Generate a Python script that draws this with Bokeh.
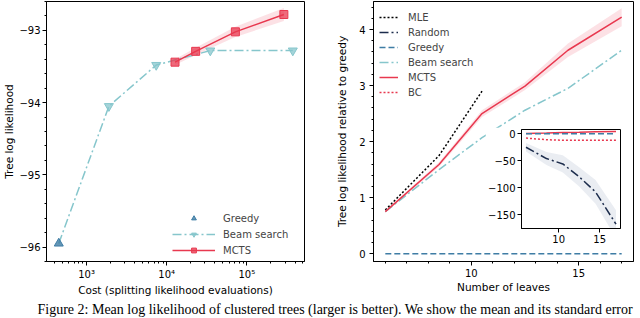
from bokeh.plotting import figure
from bokeh.layouts import row
from bokeh.models import (Range1d, FixedTicker, SingleIntervalTicker, Legend, LegendItem,
                          GridBox)
from bokeh.core.properties import value
from bokeh.embed import file_html
from bokeh.resources import INLINE

# ---------------- data: left panel ----------------
cost_greedy = [450]
ll_greedy = [-95.95]
cost_beam = [450, 1900, 7400, 35000, 375000]
ll_beam = [-95.95, -94.05, -93.48, -93.28, -93.28]
cost_mcts = [12700, 23000, 72000, 290000]
ll_mcts = [-93.44, -93.29, -93.02, -92.78]
se_mcts = [0.04, 0.05, 0.07, 0.09]
cost_ticks = [1e3, 1e4, 1e5]
cost_tick_labels = ["10³", "10⁴", "10⁵"]

# ---------------- data: right panel ----------------
leaves = [6, 8.5, 10.5, 12.5, 14.5, 17]
leaves_mle = [6, 8.5, 10.5]
rel_mle = [0.78, 1.75, 2.9]
rel_random = [-25, -46, -56, -80, -108, -168]
se_random = [8, 12, 16, 18, 22, 26]
rel_greedy = [0, 0, 0, 0, 0, 0]
rel_beam = [0.75, 1.5, 2.07, 2.56, 2.95, 3.63]
rel_mcts = [0.75, 1.59, 2.5, 2.99, 3.63, 4.22]
se_mcts_r = [0.02, 0.04, 0.06, 0.07, 0.12, 0.16]
rel_bc = [-8, -11, -12, -12, -12, -12]
inset_yticks = [0, -50, -100, -150]
inset_xticks = [10, 15]

caption = ("Figure 2: Mean log likelihood of clustered trees (larger is better). "
           "We show the mean and its standard error")

RED = "#e8384f"
BEAM = "#86c6cc"
GREEDY = "#3f7da5"
RANDOM = "#1c2c4c"
FONT = "DejaVu Sans"
DASHDOT = "9 3 2 3"


def style(p, tick_size="10px"):
    p.outline_line_color = "black"
    p.outline_line_width = 1
    p.background_fill_color = "white"
    p.border_fill_color = "white"
    p.xgrid.visible = False
    p.ygrid.visible = False
    for ax in p.axis:
        ax.axis_line_color = "black"
        ax.major_tick_line_color = "black"
        ax.minor_tick_line_color = "black"
        ax.major_tick_in = 0
        ax.major_tick_out = 4
        ax.minor_tick_in = 0
        ax.minor_tick_out = 2
        ax.major_label_text_font = FONT
        ax.major_label_text_font_size = tick_size
        ax.major_label_text_color = "black"
        ax.major_label_standoff = 3
        ax.axis_label_text_font = FONT
        ax.axis_label_text_font_size = "10.5px"
        ax.axis_label_text_font_style = "normal"
        ax.axis_label_text_color = "black"
        ax.axis_label_standoff = 1


PH = 300  # plot height (frame 1..261)

# ---------------- left figure ----------------
p1 = figure(width=333, height=PH, x_axis_type="log",
            x_range=Range1d(10 ** 2.5, 10 ** 5.72), y_range=Range1d(-96.2, -92.6),
            output_backend="svg", toolbar_location=None,
            min_border_left=42, min_border_right=29, min_border_top=1, min_border_bottom=39)
style(p1)
minor_log = [m * 10 ** e for e in range(2, 6) for m in range(2, 10)]
p1.xaxis.ticker = FixedTicker(ticks=cost_ticks, minor_ticks=minor_log)
p1.xaxis.major_label_overrides = {t: l for t, l in zip(cost_ticks, cost_tick_labels)}
p1.yaxis.ticker = SingleIntervalTicker(interval=1, num_minor_ticks=5)
p1.yaxis.axis_label_standoff = 1
p1.yaxis.major_label_standoff = 2
p1.xaxis.axis_label = "Cost (splitting likelihood evaluations)"
p1.yaxis.axis_label = "Tree log likelihood"

lo = [m - s for m, s in zip(ll_mcts, se_mcts)]
hi = [m + s for m, s in zip(ll_mcts, se_mcts)]
p1.varea(x=cost_mcts, y1=lo, y2=hi, fill_color=RED, fill_alpha=0.15)
bl = p1.line(cost_beam, ll_beam, line_color=BEAM, line_width=1.5, line_dash=DASHDOT)
bs = p1.scatter(cost_beam[1:], ll_beam[1:], marker="inverted_triangle", size=9,
                fill_color=BEAM, fill_alpha=0.75, line_color=BEAM)
ml = p1.line(cost_mcts, ll_mcts, line_color=RED, line_width=1.5)
ms = p1.scatter(cost_mcts, ll_mcts, marker="square", size=8,
                fill_color=RED, fill_alpha=0.75, line_color=RED)
gs = p1.scatter(cost_greedy, ll_greedy, marker="triangle", size=9,
                fill_color=GREEDY, fill_alpha=0.8, line_color=GREEDY)
leg1 = Legend(items=[LegendItem(label="Greedy", renderers=[gs]),
                     LegendItem(label="Beam search", renderers=[bl, bs]),
                     LegendItem(label="MCTS", renderers=[ml, ms])],
              location=(126, 5), glyph_width=43, glyph_height=12, label_height=12,
              label_standoff=8, spacing=4, padding=4, margin=0,
              border_line_color=None, background_fill_alpha=0.8,
              label_text_font=FONT, label_text_font_size="10px")
p1.add_layout(leg1)

# ---------------- right figure ----------------
p2 = figure(width=307, height=PH, x_range=Range1d(5.45, 17.55), y_range=Range1d(-0.14, 4.5),
            output_backend="svg", toolbar_location=None,
            min_border_left=39, min_border_right=7, min_border_top=1, min_border_bottom=39)
style(p2)
p2.xaxis.ticker = SingleIntervalTicker(interval=5, num_minor_ticks=5)
p2.yaxis.ticker = SingleIntervalTicker(interval=1, num_minor_ticks=5)
p2.yaxis.major_label_standoff = 4
p2.yaxis.axis_label_standoff = 8
p2.xaxis.axis_label = "Number of leaves"
p2.yaxis.axis_label = "Tree log likelihood relative to greedy"

lo = [m - s for m, s in zip(rel_mcts, se_mcts_r)]
hi = [m + s for m, s in zip(rel_mcts, se_mcts_r)]
p2.varea(x=leaves, y1=lo, y2=hi, fill_color=RED, fill_alpha=0.15)
r_mle = p2.line(leaves_mle, rel_mle, line_color="black", line_width=1.5, line_dash="2 2")
r_rand = p2.line(leaves, rel_random, line_color=RANDOM, line_width=1.5, line_dash=DASHDOT)
r_gr = p2.line(leaves, rel_greedy, line_color=GREEDY, line_width=1.5, line_dash="6 3")
r_beam = p2.line(leaves, rel_beam, line_color=BEAM, line_width=1.5, line_dash=DASHDOT)
r_mcts = p2.line(leaves, rel_mcts, line_color=RED, line_width=1.5)
r_bc = p2.line(leaves, rel_bc, line_color=RED, line_width=1.5, line_dash="2 2")
leg2 = Legend(items=[LegendItem(label="MLE", renderers=[r_mle]),
                     LegendItem(label="Random", renderers=[r_rand]),
                     LegendItem(label="Greedy", renderers=[r_gr]),
                     LegendItem(label="Beam search", renderers=[r_beam]),
                     LegendItem(label="MCTS", renderers=[r_mcts]),
                     LegendItem(label="BC", renderers=[r_bc])],
              location=(6, 163), glyph_width=19, glyph_height=12, label_height=12,
              label_standoff=10, spacing=3, padding=3, margin=0,
              border_line_color=None, background_fill_alpha=0.0,
              label_text_font=FONT, label_text_font_size="10px")
p2.add_layout(leg2)

# ---------------- inset ----------------
ins = figure(width=136, height=121, x_range=Range1d(5.45, 17.55), y_range=Range1d(-176, 8),
             output_backend="svg", toolbar_location=None,
             min_border_left=35, min_border_right=1, min_border_top=2, min_border_bottom=20,
             margin=(127, 0, 0, 485))
style(ins)
ins.xaxis.ticker = FixedTicker(ticks=inset_xticks, minor_ticks=[])
ins.yaxis.ticker = FixedTicker(ticks=inset_yticks, minor_ticks=[])
ins.xaxis.major_label_standoff = 2
ins.yaxis.major_label_standoff = 2
lo = [m - s for m, s in zip(rel_random, se_random)]
hi = [m + s for m, s in zip(rel_random, se_random)]
ins.varea(x=leaves, y1=lo, y2=hi, fill_color="#b8c4d4", fill_alpha=0.3)
ins.line(leaves, rel_random, line_color=RANDOM, line_width=1.5, line_dash=DASHDOT)
ins.line(leaves, rel_bc, line_color=RED, line_width=1.5, line_dash="2 2")
ins.line(leaves, rel_mcts, line_color=RED, line_width=1.5)
ins.line(leaves, rel_greedy, line_color=GREEDY, line_width=1.5, line_dash="6 3")

# ---------------- caption strip ----------------
cap = figure(width=640, height=318 - PH, x_range=Range1d(0, 1), y_range=Range1d(0, 1),
             output_backend="svg", toolbar_location=None,
             x_axis_location=None, y_axis_location=None, min_border=0)
cap.outline_line_color = None
cap.xgrid.visible = False
cap.ygrid.visible = False
cap.text(x=[0], y=[0.5], text=[caption], text_font=value("Liberation Serif"),
         text_font_size="14px", text_baseline="middle", text_align="left", text_color="black",
         x_offset=1)

grid = GridBox(children=[(row(p1, p2), 0, 0), (ins, 0, 0), (cap, 1, 0)])
open("out.html", "w").write(file_html(grid, INLINE))
